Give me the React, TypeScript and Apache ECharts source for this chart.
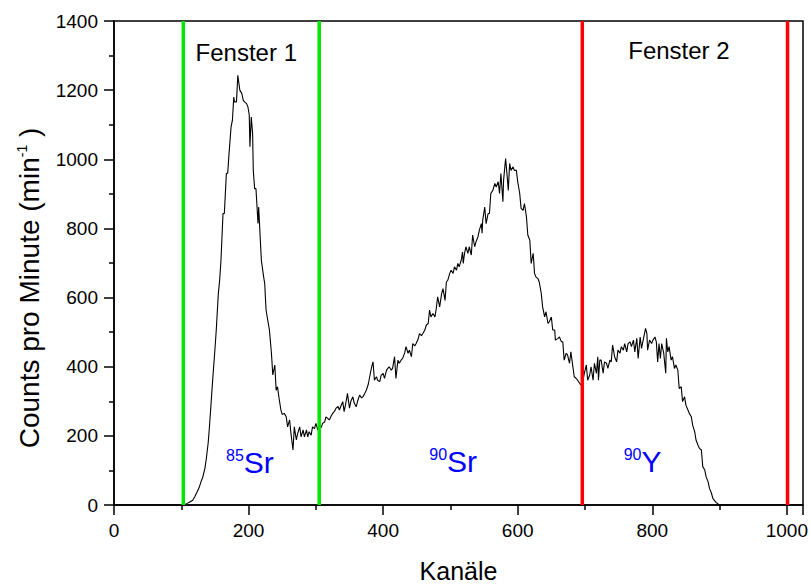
import React, { useEffect, useRef } from "react";
import * as echarts from "echarts";

const FONT = "'Liberation Sans', Arial, Helvetica, sans-serif";

// Spectrum: [channel, counts per minute]
const peak85: [number, number][] = [
  [0, 0], [100, 0], [105, 1], [108, 4], [112, 8], [117, 14], [120, 24], [124, 40], [127, 53], [130, 71],
  [132, 81], [135, 105], [137, 131], [140, 180], [142, 230], [145, 315], [147, 371], [150, 450], [152, 506],
  [155, 610], [157, 650], [159, 708], [162, 843], [164, 843], [167, 959], [169, 960], [171, 1017], [174, 1094],
  [176, 1113], [178, 1180], [179, 1166], [182, 1166], [184, 1243], [187, 1200], [190, 1190], [192, 1171],
  [194, 1166], [197, 1161], [199, 1152], [201, 1128], [202, 1036], [204, 1122], [206, 1075], [207, 968],
  [209, 915], [211, 915], [214, 814], [215, 862], [217, 785], [219, 708], [222, 665], [224, 640], [226, 564],
  [231, 506], [234, 438], [236, 376], [239, 405], [241, 332], [243, 342], [245, 313], [248, 275], [250, 262],
  [253, 265], [256, 255], [258, 226], [261, 246], [263, 207], [266, 159], [268, 226], [271, 188], [273, 207],
  [276, 226], [278, 197], [281, 217], [283, 197], [286, 217], [288, 197], [290, 212], [293, 202], [295, 226],
  [298, 221],
];

const sr90: [number, number][] = [
  [300, 236], [303, 217], [305, 231], [308, 224], [310, 236], [313, 240], [315, 255], [318, 250], [320, 246],
  [323, 258], [325, 265], [328, 272], [330, 280], [333, 285], [335, 275], [338, 290], [340, 299], [342, 270],
  [345, 300], [347, 323], [350, 280], [352, 300], [355, 313], [357, 295], [360, 284], [362, 300], [365, 318],
  [368, 310], [370, 313], [372, 320], [375, 332], [378, 350], [380, 371], [383, 400], [385, 414], [387, 361],
  [390, 371], [392, 360], [395, 357], [397, 375], [400, 381], [402, 366], [405, 390], [407, 395], [409, 400],
  [412, 390], [414, 395], [417, 429], [419, 366], [422, 419], [424, 410], [427, 420], [429, 424], [432, 440],
  [434, 458], [437, 439], [439, 448], [442, 429], [444, 467], [447, 460], [449, 467], [452, 480], [454, 496],
  [457, 490], [459, 496], [462, 506], [464, 520], [467, 525], [469, 564], [471, 544], [474, 554], [477, 544],
  [479, 569], [481, 602], [484, 573], [487, 612], [489, 626], [492, 592], [494, 645], [496, 650], [499, 670],
  [501, 679], [504, 670], [506, 689], [509, 679], [511, 699], [513, 689], [516, 708], [518, 732], [519, 699],
  [521, 728], [523, 747], [526, 728], [528, 747], [531, 723], [533, 781], [536, 747], [538, 761], [541, 776],
  [543, 795], [546, 814], [547, 786], [548, 824], [551, 862], [553, 814], [556, 843], [558, 843], [560, 901],
  [563, 910], [566, 930], [568, 920], [571, 935], [573, 901], [575, 959], [578, 877], [579, 939], [582, 1002],
  [584, 959], [586, 910], [588, 988], [590, 968], [593, 978], [595, 968], [598, 968], [600, 935], [603, 901],
  [605, 858], [608, 852], [610, 872], [613, 833], [615, 781], [618, 766], [620, 699], [623, 728], [625, 670],
  [627, 660], [630, 655], [632, 645], [635, 612], [637, 573], [640, 544], [642, 559], [645, 525], [647, 530],
  [650, 544], [652, 506], [655, 506], [656, 477], [660, 482], [662, 486], [665, 472], [667, 472], [669, 419],
  [672, 439], [674, 434], [677, 410], [679, 443], [682, 400], [684, 371], [687, 366], [689, 361],
];

const y90: [number, number][] = [
  [692, 352], [694, 347], [697, 361], [699, 381], [702, 405], [704, 361], [707, 376], [709, 400], [712, 361],
  [714, 410], [717, 381], [719, 429], [720, 361], [722, 419], [724, 419], [727, 381], [729, 414], [732, 410],
  [734, 395], [737, 419], [739, 414], [741, 463], [744, 429], [747, 414], [749, 448], [752, 439], [754, 458],
  [757, 448], [759, 467], [762, 443], [764, 467], [767, 472], [769, 458], [772, 477], [774, 443], [777, 482],
  [779, 424], [782, 486], [784, 453], [787, 482], [790, 511], [792, 496], [793, 448], [796, 477], [799, 467],
  [801, 477], [804, 486], [806, 472], [808, 414], [810, 467], [812, 424], [814, 467], [817, 439], [820, 381],
  [821, 482], [823, 443], [825, 458], [828, 419], [830, 429], [833, 395], [835, 405], [838, 390], [840, 337],
  [843, 342], [845, 299], [848, 313], [850, 289], [853, 275], [855, 265], [858, 255], [860, 231], [863, 212],
  [865, 188], [868, 173], [870, 164], [873, 159], [875, 111], [878, 101], [880, 82], [883, 67], [885, 48],
  [888, 34], [890, 19], [895, 7], [900, 0], [1024, 0],
];

// Window boundaries (channels)
const windowLines = [103, 305, 696, 1001];
const windowColors = ["#00e800", "#00e800", "#ff0000", "#ff0000"];

// Window labels [channel, counts]
const windowLabels = ["Fenster 1", "Fenster 2"];
const windowLabelPos: [number, number][] = [[196.6, 1309], [839.6, 1315]];

// Nuclide labels
const nuclideMass = ["85", "90", "90"];
const nuclideSymbol = ["Sr", "Sr", "Y"];
const nuclidePos: [number, number][] = [[202, 124], [504, 125], [785.6, 126]];

const xTicks = { min: 0, max: 1024, interval: 200 };
const yTicks = { min: 0, max: 1400, interval: 200 };

export default function App() {
  const ref = useRef<HTMLDivElement>(null);
  useEffect(() => {
    document.body.style.margin = "0";
    const chart = echarts.init(ref.current!, null, { renderer: "svg" });
    const axisCommon = {
      axisLine: { show: true, lineStyle: { color: "#000", width: 1.5 } },
      axisTick: { show: true, length: 10, lineStyle: { color: "#000", width: 1.5 } },
      minorTick: { show: true, splitNumber: 2, length: 5, lineStyle: { color: "#000", width: 1.5 } },
      splitLine: { show: false },
    };
    const spectrum = [...peak85, ...sr90, ...y90];
    const series: any[] = [
      {
        type: "line",
        data: spectrum,
        symbol: "none",
        lineStyle: { color: "#000", width: 1.1 },
        z: 2,
      },
      ...windowLines.map((x, i) => ({
        type: "line",
        data: [[x, yTicks.min], [x, yTicks.max]],
        symbol: "none",
        lineStyle: { color: windowColors[i], width: 3.5 },
        z: 3,
      })),
      {
        type: "scatter",
        symbolSize: 0,
        z: 4,
        itemStyle: { opacity: 1, color: "transparent" },
        data: windowLabels.map((t, i) => ({
          value: windowLabelPos[i],
          label: { formatter: t },
        })),
        label: {
          show: true,
          position: "inside",
          color: "#000",
          opacity: 1,
          fontSize: 24,
          fontFamily: FONT,
        },
      },
      {
        type: "scatter",
        symbolSize: 0,
        z: 4,
        itemStyle: { opacity: 1, color: "transparent" },
        data: nuclideMass.map((m, i) => ({
          value: nuclidePos[i],
          label: { formatter: `{sup|${m}}{big|${nuclideSymbol[i]}}` },
        })),
        label: {
          show: true,
          position: "inside",
          color: "#0000ff",
          opacity: 1,
          fontFamily: FONT,
          rich: {
            sup: { fontSize: 16, color: "#0000ff", fontFamily: FONT, verticalAlign: "top", lineHeight: 30 },
            big: { fontSize: 30, color: "#0000ff", fontFamily: FONT, lineHeight: 30 },
          },
        },
      },
    ];
    chart.setOption({
      animation: false,
      backgroundColor: "#fff",
      grid: {
        left: 114,
        right: 8,
        top: 21,
        bottom: 79,
        show: true,
        borderColor: "#000",
        borderWidth: 1.5,
        containLabel: false,
        outerBoundsMode: "none",
      },
      xAxis: {
        type: "value",
        ...xTicks,
        name: "Kanäle",
        nameLocation: "middle",
        nameGap: 53,
        nameTextStyle: { fontSize: 25, color: "#000", fontFamily: FONT },
        axisLabel: {
          fontSize: 19,
          color: "#000",
          margin: 16,
          fontFamily: FONT,
          showMaxLabel: false,
          formatter: (v: number) => (v % 200 === 0 ? String(v) : ""),
        },
        ...axisCommon,
      },
      yAxis: {
        type: "value",
        ...yTicks,
        name: "{t|Counts pro Minute (min}{s|-1}{t| )}",
        nameLocation: "middle",
        nameGap: 71,
        nameTextStyle: {
          fontSize: 28,
          color: "#000",
          fontFamily: FONT,
          padding: [0, 50, 0, 0],
          rich: {
            t: { fontSize: 28, color: "#000", fontFamily: FONT, lineHeight: 28 },
            s: { fontSize: 14, color: "#000", fontFamily: FONT, verticalAlign: "top", lineHeight: 28 },
          },
        },
        axisLabel: {
          fontSize: 19,
          color: "#000",
          margin: 16,
          fontFamily: FONT,
          formatter: (v: number) => String(v),
        },
        ...axisCommon,
      },
      series,
    });
    return () => chart.dispose();
  }, []);
  return <div ref={ref} style={{ width: 811, height: 584 }} />;
}
